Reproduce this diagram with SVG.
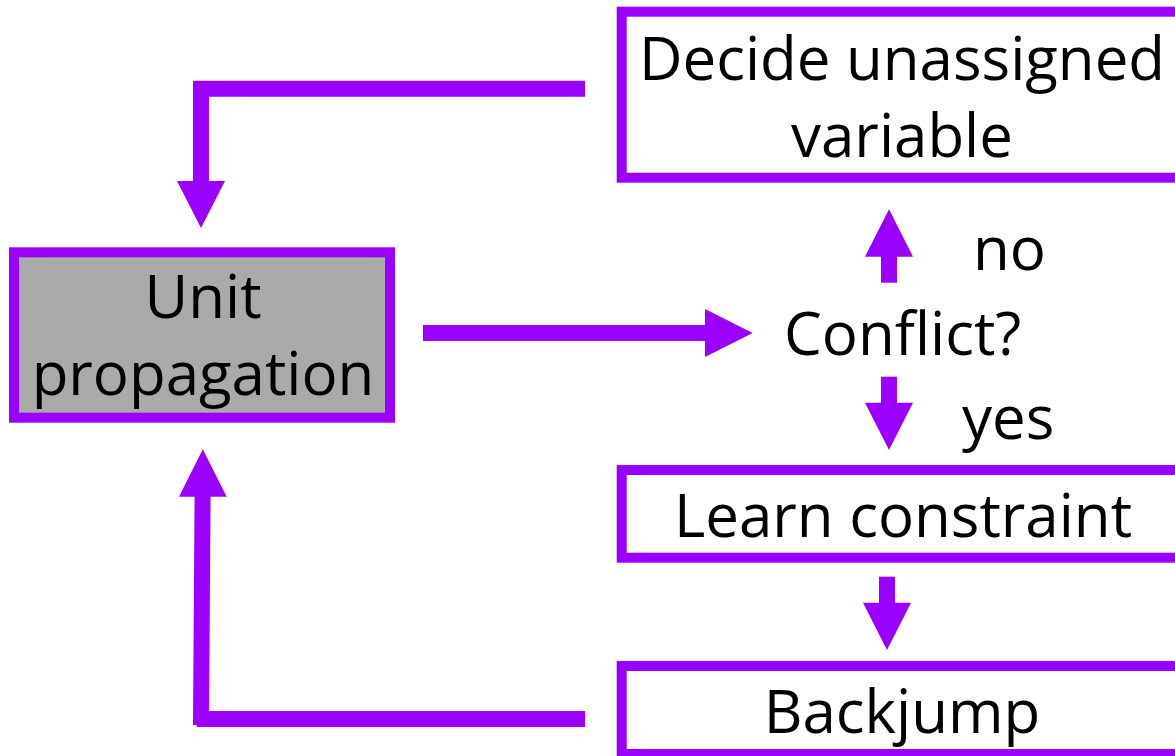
<svg xmlns="http://www.w3.org/2000/svg" width="1175" height="756" viewBox="0 0 1175 756">
<style>
.box{fill:#ffffff;stroke:#9900ff;stroke-width:10}
.gray{fill:#aaaaaa}
.t{font-family:"Open Sans","Noto Sans","DejaVu Sans",sans-serif;font-size:60px;fill:#000000;text-anchor:middle}
.tl{font-family:"Open Sans","Noto Sans","DejaVu Sans",sans-serif;font-size:60px;fill:#000000;text-anchor:start}
.ln{fill:none;stroke:#9900ff;stroke-width:16;stroke-linejoin:miter;stroke-linecap:butt}
.hd{fill:#9900ff}
</style>
<rect width="1175" height="756" fill="#ffffff"/>
<g id="connectors">
  <path class="ln" d="M585,88.8 H201 V182"/>
  <polygon class="hd" points="177,181 225,181 201,228"/>
  <path class="ln" d="M423,333 H706"/>
  <polygon class="hd" points="705,309 705,357 752.7,333"/>
  <path class="ln" d="M889,282.7 V255"/>
  <polygon class="hd" points="865,256.7 913,256.7 889,209.3"/>
  <path class="ln" d="M889,376.7 V404"/>
  <polygon class="hd" points="865,402.7 913,402.7 889,450"/>
  <path class="ln" d="M887,576.7 V604"/>
  <polygon class="hd" points="863,602.7 911,602.7 887,650"/>
  <path class="ln" d="M585,719 H196.7"/>
  <path class="ln" d="M201,725 L202.6,495"/>
  <polygon class="hd" points="179,496.7 226.7,496.7 202.8,449.3"/>
</g>
<g id="unit-propagation">
  <rect class="box gray" x="14" y="252.3" width="376" height="165.4"/>
  <text class="t" x="203" y="318.3">Unit</text>
  <text class="t" x="203" y="395">propagation</text>
</g>
<g id="decide">
  <rect class="box" x="621.7" y="11.7" width="600" height="166"/>
  <text class="t" x="902" y="80">Decide unassigned</text>
  <text class="t" x="902" y="157">variable</text>
</g>
<g id="conflict">
  <text class="tl" x="784" y="355">Conflict?</text>
</g>
<g id="label-no">
  <text class="tl" x="973" y="270">no</text>
</g>
<g id="label-yes">
  <text class="tl" x="962" y="439">yes</text>
</g>
<g id="learn">
  <rect class="box" x="621.7" y="470" width="600" height="87.7"/>
  <text class="t" x="903" y="537.3">Learn constraint</text>
</g>
<g id="backjump">
  <rect class="box" x="621.7" y="666" width="600" height="88"/>
  <text class="t" x="902" y="733.3">Backjump</text>
</g>
</svg>
